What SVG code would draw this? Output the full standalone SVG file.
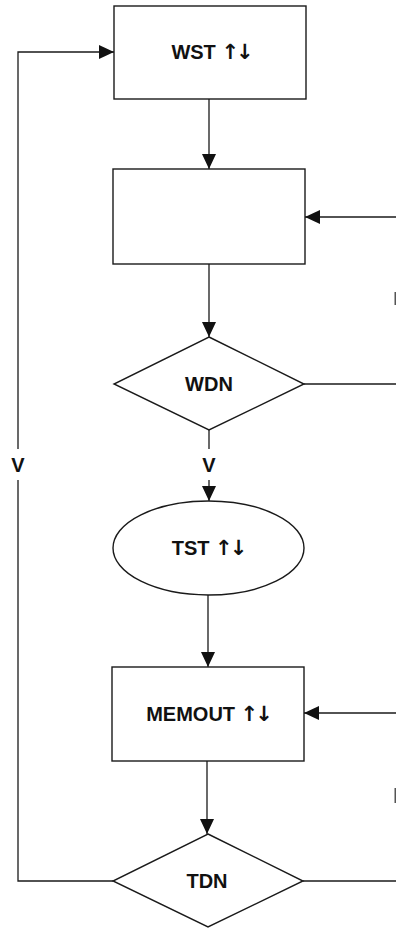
<svg xmlns="http://www.w3.org/2000/svg" width="396" height="930" viewBox="0 0 396 930">
  <style>
    .shape { fill: #fff; stroke: #1a1a1a; stroke-width: 1.4; }
    .line { fill: none; stroke: #1a1a1a; stroke-width: 1.3; }
    .label { font-family: "Liberation Sans", Arial, sans-serif; font-weight: bold; font-size: 20px; fill: #111; text-anchor: middle; }
    .arr { font-family: "DejaVu Sans", sans-serif; font-weight: bold; font-size: 21px; letter-spacing: -3px; }
    .mark { fill: #555; }
  </style>
  <defs>
    <marker id="arrow" markerUnits="userSpaceOnUse" markerWidth="16" markerHeight="15" refX="15" refY="7" orient="auto">
      <path d="M0,0 L15,7 L0,14 z" fill="#111"/>
    </marker>
  </defs>
  <rect width="396" height="930" fill="#fff"/>

  <g id="connectors">
    <!-- WST to blank box -->
    <line class="line" x1="209" y1="99" x2="209" y2="169" marker-end="url(#arrow)"/>
    <!-- blank box to WDN -->
    <line class="line" x1="209" y1="264" x2="209" y2="337" marker-end="url(#arrow)"/>
    <!-- WDN to TST -->
    <line class="line" x1="209" y1="430" x2="209" y2="449"/>
    <line class="line" x1="209" y1="480" x2="209" y2="501" marker-end="url(#arrow)"/>
    <!-- TST to MEMOUT -->
    <line class="line" x1="208" y1="595" x2="208" y2="667" marker-end="url(#arrow)"/>
    <!-- MEMOUT to TDN -->
    <line class="line" x1="207" y1="761" x2="207" y2="834" marker-end="url(#arrow)"/>
    <!-- loop back from TDN to WST -->
    <polyline class="line" points="113,881 18,881 18,480"/>
    <polyline class="line" points="18,449 18,52 114,52" marker-end="url(#arrow)"/>
    <!-- incoming lines from the right -->
    <line class="line" x1="396" y1="217" x2="305" y2="217" marker-end="url(#arrow)"/>
    <line class="line" x1="304" y1="384" x2="396" y2="384"/>
    <line class="line" x1="396" y1="713" x2="304" y2="713" marker-end="url(#arrow)"/>
    <line class="line" x1="303" y1="881" x2="396" y2="881"/>
    <!-- branch labels -->
    <text class="label" x="18" y="472">V</text>
    <text class="label" x="209" y="472">V</text>
    <!-- edge fragments -->
    <rect class="mark" x="394.5" y="292" width="1.5" height="13"/>
    <rect class="mark" x="394.5" y="788" width="1.5" height="15"/>
  </g>

  <g id="wst">
    <rect class="shape" x="114" y="6" width="192" height="93"/>
    <text class="label" x="211" y="59">WST <tspan class="arr">↑↓</tspan></text>
  </g>

  <g id="blank">
    <rect class="shape" x="113" y="169" width="192" height="95"/>
  </g>

  <g id="wdn">
    <polygon class="shape" points="209,337 304,384 209,430 114,384"/>
    <text class="label" x="209" y="391">WDN</text>
  </g>

  <g id="tst">
    <ellipse class="shape" cx="208.5" cy="548" rx="95.5" ry="47"/>
    <text class="label" x="208" y="555">TST <tspan class="arr">↑↓</tspan></text>
  </g>

  <g id="memout">
    <rect class="shape" x="112" y="667" width="192" height="94"/>
    <text class="label" x="208" y="721">MEMOUT <tspan class="arr">↑↓</tspan></text>
  </g>

  <g id="tdn">
    <polygon class="shape" points="208,834 303,881 208,927 113,881"/>
    <text class="label" x="207" y="888">TDN</text>
  </g>
</svg>
